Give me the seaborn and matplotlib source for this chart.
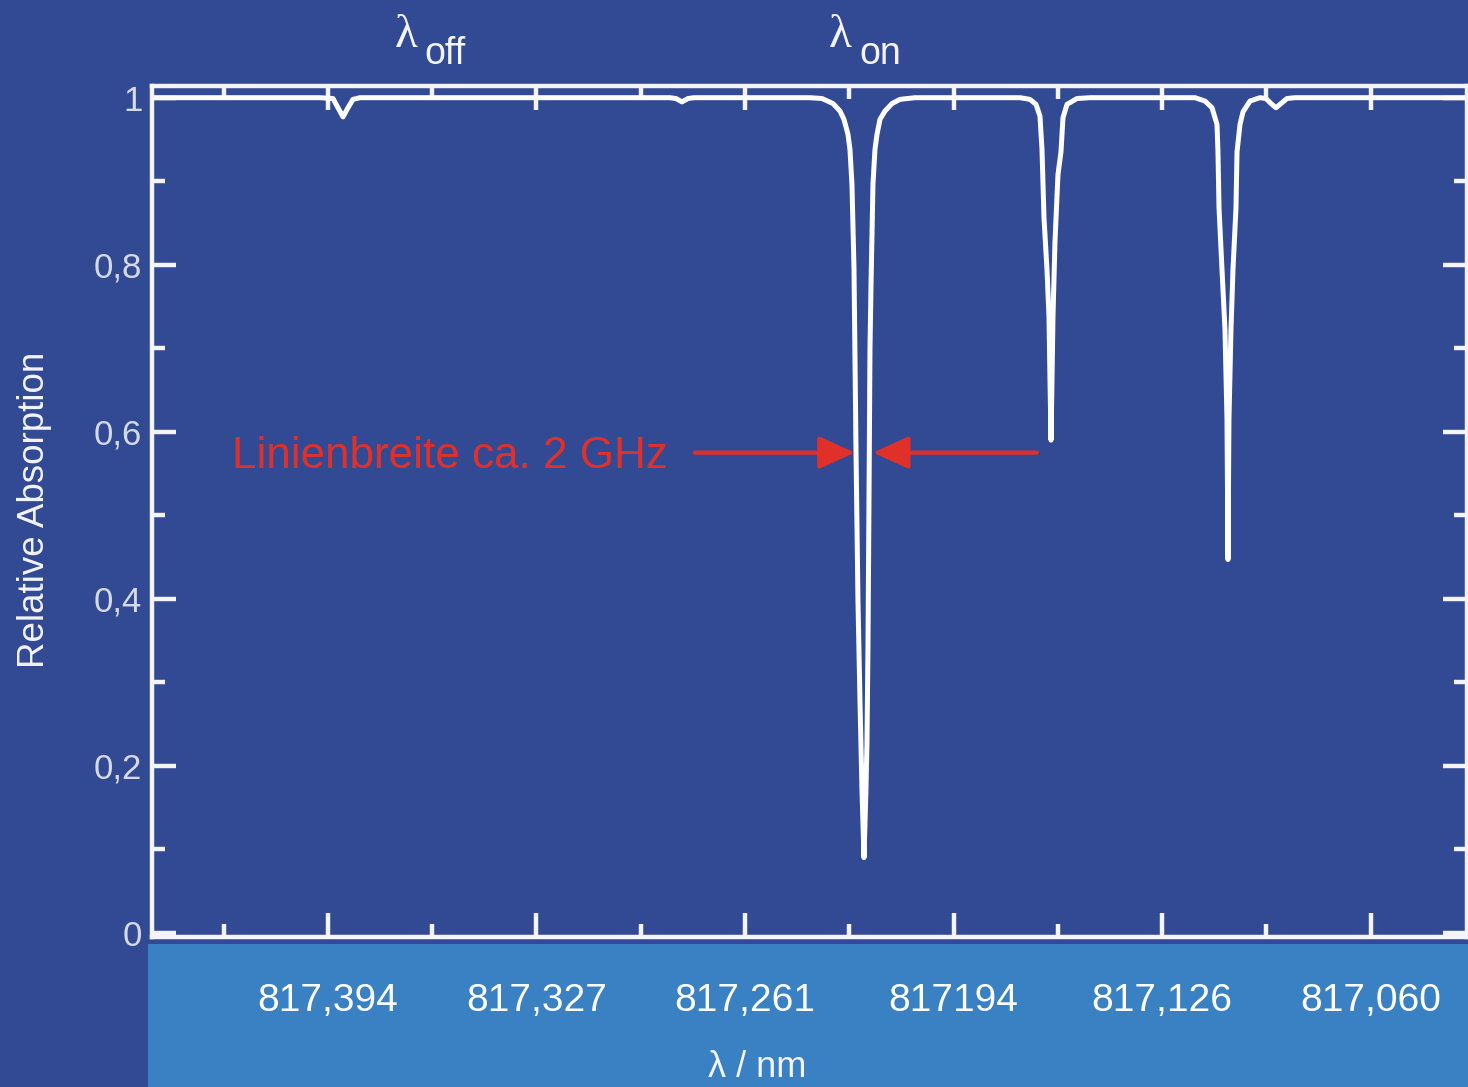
import matplotlib
matplotlib.use("Agg")
import matplotlib.pyplot as plt
from matplotlib.patches import Rectangle
import seaborn as sns
import pandas as pd

# ---------------- data ----------------
# x: relative frequency offset in GHz (major tick every 30 GHz), y: relative absorption
freq_ghz = [-25.32, -1.15, 0.72, 1.44, 2.16, 2.88, 3.60, 4.60,
            49.21, 50.07, 50.93, 51.80, 52.66,
            69.35, 71.08, 72.66, 73.67, 74.24, 74.82, 75.10, 75.39, 75.68, 75.97,
            76.25, 76.54, 76.83, 77.12, 77.40, 77.55, 77.69, 77.84, 77.98, 78.13,
            78.41, 78.70, 78.99, 79.42, 80.14, 81.15, 82.30, 84.46,
            99.56, 101.00, 101.87, 102.44, 102.73, 103.02, 103.45, 103.74, 103.88,
            104.03, 104.17, 104.31, 104.60, 105.03, 105.46, 105.75, 106.33, 107.77, 109.64,
            124.74, 126.18, 127.19, 127.91, 128.05, 128.20, 128.63, 129.06, 129.35,
            129.49, 129.63, 129.92, 130.21, 130.64, 130.79, 131.22, 131.65, 132.66, 134.10,
            134.96, 135.68, 136.40, 137.12, 137.98, 139.13, 163.88]
absorption = [1.000, 1.000, 0.999, 0.988, 0.977, 0.988, 0.998, 1.000,
              1.000, 0.999, 0.995, 0.999, 1.000,
              1.000, 0.999, 0.993, 0.984, 0.974, 0.956, 0.938, 0.896, 0.796, 0.578,
              0.399, 0.279, 0.171, 0.090, 0.171, 0.228, 0.339, 0.519, 0.698, 0.776,
              0.896, 0.938, 0.956, 0.974, 0.984, 0.993, 0.998, 1.000,
              1.000, 0.998, 0.992, 0.978, 0.938, 0.856, 0.794, 0.737, 0.662,
              0.590, 0.662, 0.737, 0.828, 0.908, 0.935, 0.976, 0.992, 0.999, 1.000,
              1.000, 0.996, 0.988, 0.968, 0.935, 0.868, 0.794, 0.722, 0.614,
              0.447, 0.614, 0.722, 0.794, 0.868, 0.935, 0.968, 0.983, 0.996, 1.000,
              0.999, 0.993, 0.988, 0.993, 0.999, 1.000, 1.000]

x_major = [0, 30, 60, 90, 120, 150]
x_labels = ["817,394", "817,327", "817,261", "817194", "817,126", "817,060"]
x_minor = [-15, 15, 45, 75, 105, 135]
y_major = [0, 0.2, 0.4, 0.6, 0.8, 1.0]
y_labels = ["0", "0,2", "0,4", "0,6", "0,8", "1"]
y_minor = [0.1, 0.3, 0.5, 0.7, 0.9]

annot_text = "Linienbreite ca. 2 GHz"
annot_y = 0.575
arrow_left_from, arrow_left_to = 52.8, 75.8
arrow_right_from, arrow_right_to = 102.0, 78.4

# ---------------- style ----------------
BG = "#324A94"
BAND = "#3A81C4"
WHITE = "#F4F4FA"
RED = "#E0302A"

sns.set_style("ticks")
plt.rcParams["font.family"] = ["Liberation Sans", "DejaVu Sans"]

W, H = 1468, 1087
fig = plt.figure(figsize=(W / 100, H / 100), dpi=100, facecolor=BG)

# light blue band at bottom (drawn behind the axes and its tick labels)
fig.patches.append(Rectangle((148 / W, 0), 1 - 148 / W, (H - 944) / H,
                             transform=fig.transFigure, facecolor=BAND,
                             edgecolor="none", zorder=-10))

ax = fig.add_axes([152 / W, (H - 937) / H, (1467 - 152) / W, (937 - 86) / H])
ax.set_zorder(1)
ax.set_facecolor(BG)

df = pd.DataFrame({"freq": freq_ghz, "abs": absorption})
sns.lineplot(data=df, x="freq", y="abs", ax=ax, color="white", lw=3.6,
             sort=False, estimator=None)

ax.set_xlim(-25.32, 163.88)
ax.set_ylim(-0.005, 1.014)

ax.set_xticks(x_major)
ax.set_xticklabels(x_labels)
ax.set_xticks(x_minor, minor=True)
ax.set_yticks(y_major)
ax.set_yticklabels(y_labels)
ax.set_yticks(y_minor, minor=True)

for s in ax.spines.values():
    s.set_color(WHITE)
    s.set_linewidth(3.2)
    s.set_visible(True)

ax.tick_params(which="both", direction="in", top=True, right=True,
               color=WHITE, width=3.2)
ax.tick_params(which="major", length=17.5)
ax.tick_params(which="minor", length=9.5)
ax.tick_params(axis="x", which="major", labelsize=28, labelcolor="white", pad=33)
ax.tick_params(axis="y", which="major", labelsize=25, labelcolor="#D6DAE6", pad=7)
ax.set_xlabel("")
ax.set_ylabel("")

# red annotation
ax.text(-13.81, 0.557, annot_text, color=RED, fontsize=31.7, ha="left", va="baseline")
arrowprops = dict(arrowstyle="-|>,head_length=1.1,head_width=0.5", color=RED,
                  lw=3, mutation_scale=20, shrinkA=0, shrinkB=0)
ax.annotate("", xy=(arrow_left_to, annot_y), xytext=(arrow_left_from, annot_y),
            arrowprops=arrowprops)
ax.annotate("", xy=(arrow_right_to, annot_y), xytext=(arrow_right_from, annot_y),
            arrowprops=arrowprops)

# axis labels
fig.text(35 / W, 1 - 510 / H, "Relative Absorption", rotation=90, color=WHITE,
         fontsize=26.5, ha="center", va="center")
fig.text(757 / W, 1 - 1077 / H, "λ / nm", color=WHITE, fontsize=26,
         ha="center", va="baseline")

# lambda off / on labels
serif = ["Liberation Serif", "DejaVu Serif"]
fig.text(395 / W, 1 - 47 / H, "λ", color=WHITE, fontsize=34, ha="left",
         va="baseline", family=serif)
fig.text(424 / W, 1 - 64 / H, "off", color=WHITE, fontsize=27, ha="left",
         va="baseline")
fig.text(829 / W, 1 - 47 / H, "λ", color=WHITE, fontsize=34, ha="left",
         va="baseline", family=serif)
fig.text(859 / W, 1 - 64 / H, "on", color=WHITE, fontsize=27, ha="left",
         va="baseline")

fig.savefig("out.png", dpi=100, facecolor=BG)
